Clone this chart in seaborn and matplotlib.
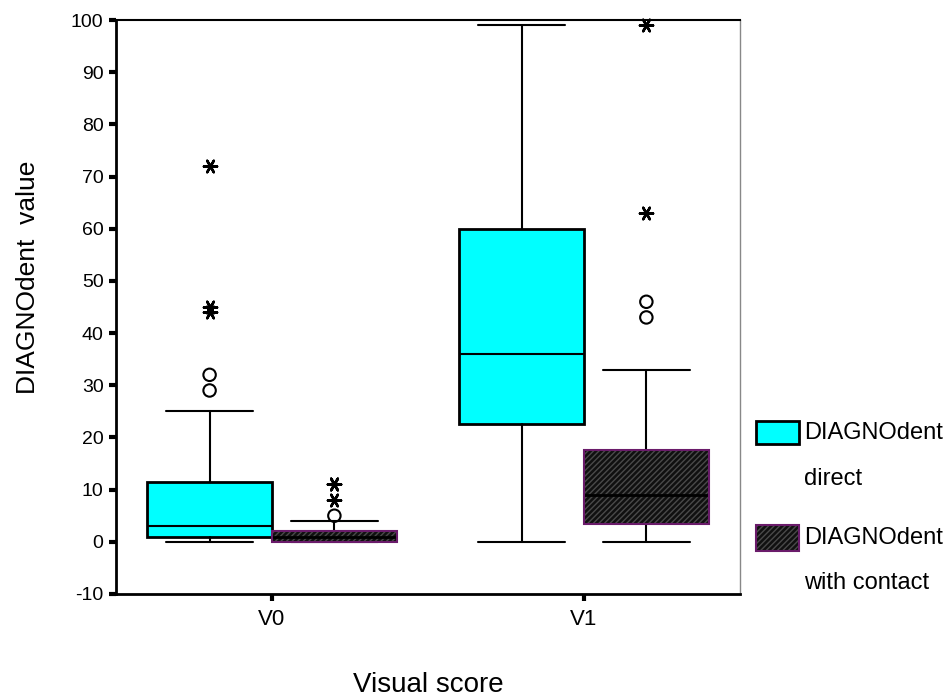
import matplotlib
matplotlib.use("Agg")
import matplotlib.pyplot as plt
from matplotlib.patches import Rectangle, PathPatch
import seaborn as sns

# summary values
groups = ["V0", "V1"]
direct_q1 = [1.0, 22.5]
direct_med = [3.0, 36.0]
direct_q3 = [11.5, 60.0]
direct_lo = [0.0, 0.0]
direct_hi = [25.0, 99.0]
contact_q1 = [0.0, 3.5]
contact_med = [1.0, 9.0]
contact_q3 = [2.0, 17.5]
contact_lo = [0.0, 0.0]
contact_hi = [4.0, 33.0]

# outliers (circles) and extremes (stars)
direct_out = [[29, 32], []]
direct_ext = [[44, 45, 72], []]
contact_out = [[5], [43, 46]]
contact_ext = [[8, 11, 11], [63, 99]]

yticks = [-10, 0, 10, 20, 30, 40, 50, 60, 70, 80, 90, 100]

sns.set_style("ticks")
plt.rcParams["font.family"] = ["Liberation Sans", "DejaVu Sans"]
plt.rcParams["text.color"] = "black"
plt.rcParams["axes.labelcolor"] = "black"
plt.rcParams["xtick.color"] = "black"
plt.rcParams["ytick.color"] = "black"

fig = plt.figure(figsize=(9.5, 6.97), dpi=100)
ax = fig.add_axes([0.1221, 0.1478, 0.6568, 0.8235])

offset = 0.2
width = 0.4
dark = "#101010"
hatch_col = "#4a4a4a"
edge_purple = "#6a1b6a"

def make_stats(q1, med, q3, lo, hi):
    return [dict(q1=a, med=b, q3=c, whislo=d, whishi=e, fliers=[])
            for a, b, c, d, e in zip(q1, med, q3, lo, hi)]

pos_direct = [i - offset for i in range(len(groups))]
pos_contact = [i + offset for i in range(len(groups))]

line = dict(color="black", linewidth=1.5)
bd = ax.bxp(make_stats(direct_q1, direct_med, direct_q3, direct_lo, direct_hi),
            positions=pos_direct, widths=width, capwidths=0.28, patch_artist=True,
            boxprops=dict(facecolor="#00ffff", edgecolor="black", linewidth=2),
            medianprops=line, whiskerprops=line, capprops=line, showfliers=False)
bc = ax.bxp(make_stats(contact_q1, contact_med, contact_q3, contact_lo, contact_hi),
            positions=pos_contact, widths=width, capwidths=0.28, patch_artist=True,
            boxprops=dict(facecolor=dark, edgecolor=hatch_col, linewidth=0,
                          hatch="//////"),
            medianprops=dict(color="#000000", linewidth=2),
            whiskerprops=line, capprops=line, showfliers=False)
for box in bc["boxes"]:
    ax.add_patch(PathPatch(box.get_path(), facecolor="none", edgecolor=edge_purple,
                           linewidth=1.5, zorder=box.get_zorder() + 0.5))

# outliers drawn with seaborn
ox, oy, ex, ey = [], [], [], []
for i in range(len(groups)):
    for v in direct_out[i]:
        ox.append(pos_direct[i]); oy.append(v)
    for v in contact_out[i]:
        ox.append(pos_contact[i]); oy.append(v)
    for v in direct_ext[i]:
        ex.append(pos_direct[i]); ey.append(v)
    for v in contact_ext[i]:
        ex.append(pos_contact[i]); ey.append(v)

sns.scatterplot(x=ox, y=oy, ax=ax, marker="o", s=80, facecolor="none",
                edgecolor="black", linewidth=1.5, zorder=5, clip_on=False)
sns.scatterplot(x=ex, y=ey, ax=ax, marker=(6, 2, 90), s=90, color="black",
                linewidth=1.8, zorder=5, clip_on=False)

ax.set_xlim(-0.5, 1.5)
ax.set_ylim(-10, 100)
ax.set_xticks(range(len(groups)))
ax.set_xticklabels(groups)
ax.set_yticks(yticks)
ax.set_yticklabels([str(t) for t in yticks])
ax.tick_params(axis="both", direction="out", length=5, width=3, color="black")
ax.tick_params(axis="y", labelsize=14, pad=4)
ax.tick_params(axis="x", labelsize=16, pad=6)

for s in ["left", "bottom", "top"]:
    ax.spines[s].set_color("black")
ax.spines["left"].set_linewidth(2)
ax.spines["bottom"].set_linewidth(2)
ax.spines["top"].set_linewidth(1.5)
ax.spines["right"].set_color("#888888")
ax.spines["right"].set_linewidth(1)

ax.set_xlabel("Visual score", fontsize=20, labelpad=30)
ax.set_ylabel("DIAGNOdent  value", fontsize=19)
ax.yaxis.set_label_coords(-0.122, 0.552)

# legend on the right, SPSS style
H = 697.0
def fig_rect(x0, y0, x1, y1, **kw):
    r = Rectangle((x0 / 950, 1 - y1 / H), (x1 - x0) / 950, (y1 - y0) / H,
                  transform=fig.transFigure, **kw)
    fig.patches.append(r)

fig_rect(756, 421, 799, 444, facecolor="#00ffff", edgecolor="black", linewidth=2)
fig_rect(756, 525, 799, 551, facecolor=dark, edgecolor=hatch_col,
         linewidth=0, hatch="//////")
fig_rect(756, 525, 799, 551, facecolor="none", edgecolor=edge_purple, linewidth=1.5)

for txt, yy in [("DIAGNOdent", 433), ("direct", 479),
                ("DIAGNOdent", 538), ("with contact", 583)]:
    fig.text(804 / 950, 1 - yy / H, txt, fontsize=17, va="center", ha="left")

fig.savefig("out.png", dpi=100)
